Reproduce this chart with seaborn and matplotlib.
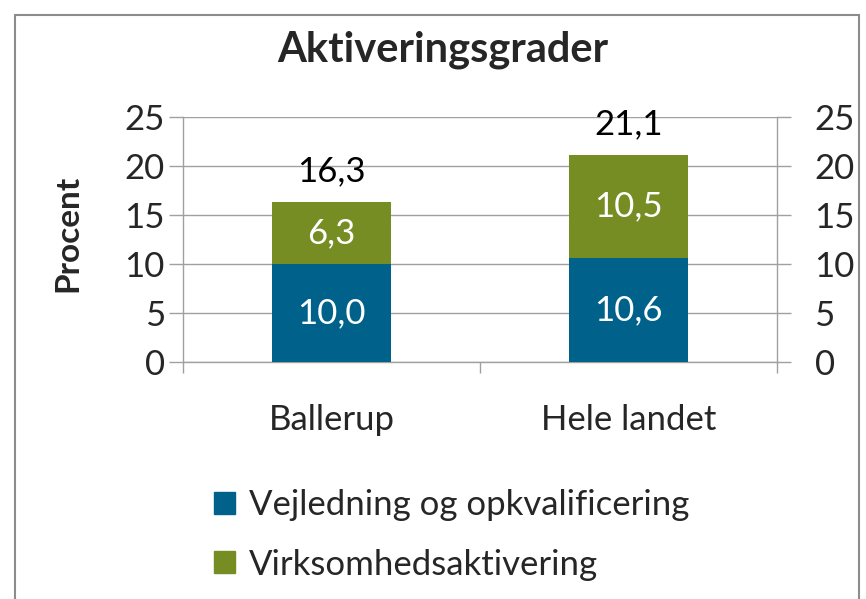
import numpy as np
import pandas as pd
import matplotlib
matplotlib.use("Agg")
import matplotlib.pyplot as plt
import seaborn as sns
from matplotlib.patches import Patch, Rectangle

# data
kommuner = ["Ballerup", "Hele landet"]
vejledning = [10.0, 10.6]
virksomhed = [6.3, 10.5]
serier = ["Vejledning og opkvalificering", "Virksomhedsaktivering"]
yticks = [0, 5, 10, 15, 20, 25]

blue = "#00628B"
green = "#758D22"
grey = "#A0A0A0"

sns.set_theme(style="white")
plt.rcParams["font.family"] = ["Lato", "DejaVu Sans"]

fig = plt.figure(figsize=(8.66, 5.99), dpi=100)
ax = fig.add_axes([183 / 866, 1 - 362 / 599, (777 - 183) / 866, (362 - 117) / 599])

df = pd.DataFrame({"kommune": kommuner, "vejl": vejledning, "virk": virksomhed})
df["total"] = df["vejl"] + df["virk"]

sns.barplot(data=df, x="kommune", y="vejl", color=blue, width=0.404,
            saturation=1, ax=ax, zorder=3, linewidth=0)
sns.barplot(data=df, x="kommune", y="virk", bottom=df["vejl"], color=green,
            width=0.404, saturation=1, ax=ax, zorder=3, linewidth=0)

# labels in the segments
for cont in ax.containers:
    labs = [f"{b.get_height():.1f}".replace(".", ",") for b in cont]
    ax.bar_label(cont, labels=labs, label_type="center", color="white", fontsize=25)

# totals above
for i, t in enumerate(df["total"]):
    ax.annotate(f"{t:.1f}".replace(".", ","), (i, t), xytext=(0, 11),
                textcoords="offset points", ha="center", va="bottom",
                fontsize=25, color="black")

ax.set_ylim(0, 25)
ax.set_xlim(-0.5, 1.5)
ax.set_yticks(yticks)
ax.set_xlabel("")
ax.set_ylabel("Procent", fontsize=24, fontweight="bold")
ax.yaxis.set_label_coords(-0.194, 0.527)
ax.yaxis.label.set_va("center")
ax.yaxis.grid(True, color=grey, lw=1, zorder=0)
ax.tick_params(axis="y", labelsize=25, length=10, color=grey, width=1, left=True, pad=3)
ax.tick_params(axis="x", labelsize=25, length=0, pad=30)
ax.set_xticks([-0.5, 0.5, 1.5], minor=True)
ax.tick_params(axis="x", which="minor", length=8, color=grey, width=1, bottom=True)
for s in ["left", "right", "bottom"]:
    ax.spines[s].set_color(grey)
    ax.spines[s].set_linewidth(1)
ax.spines["top"].set_visible(False)

ax2 = ax.twinx()
ax2.set_ylim(0, 25)
ax2.set_yticks(yticks)
ax2.tick_params(axis="y", labelsize=25, length=10, color=grey, width=1, right=True, pad=17)
for s in ax2.spines.values():
    s.set_visible(False)
ax2.grid(False)

fig.text(443 / 866, 1 - 50 / 599, "Aktiveringsgrader", ha="center", va="center",
         fontsize=30, fontweight="bold")

handles = [Patch(color=blue), Patch(color=green)]
fig.legend(handles, serier, loc="upper left", bbox_to_anchor=(200 / 866, 1 - 475 / 599),
           frameon=False, fontsize=25, handlelength=0.6, handleheight=0.6,
           handletextpad=0.4, labelspacing=0.8, borderaxespad=0)

fig.patches.append(Rectangle((15 / 866, -0.05), 844 / 866, 1.05 - 15 / 599,
                             transform=fig.transFigure, fill=False,
                             edgecolor="#8C8C8C", lw=1.5))

fig.savefig("out.png", dpi=100)
